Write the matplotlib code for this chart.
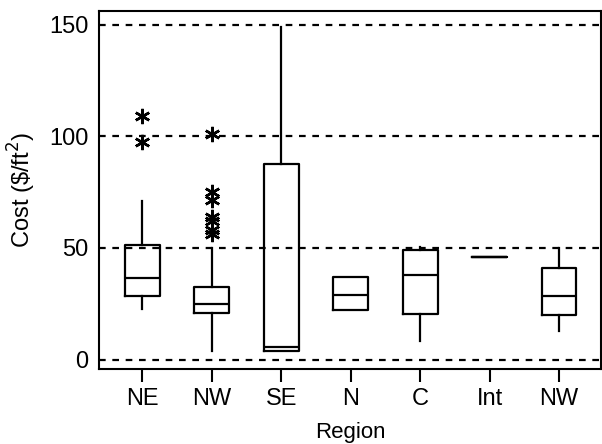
import matplotlib.pyplot as plt

plt.rcParams['font.family'] = ['Liberation Sans', 'DejaVu Sans']

# box statistics
regions = ["NE", "NW", "SE", "N", "C", "Int", "NW"]
whislo = [22.7, 4.0, 4.0, 22.0, 8.5, 46.0, 13.0]
q1 = [28.6, 21.0, 4.0, 22.0, 20.5, 46.0, 20.0]
med = [36.7, 25.0, 5.5, 29.0, 38.0, 46.0, 28.3]
q3 = [51.3, 32.6, 87.5, 37.0, 49.0, 46.0, 41.0]
whishi = [71.0, 50.0, 148.7, 37.0, 50.5, 46.0, 50.0]
outliers = [
    [109.0, 97.3],
    [101.0, 75.0, 71.4, 64.0, 62.0, 58.0, 56.0],
    [], [], [], [], [],
]

stats = []
for i in range(len(regions)):
    stats.append({"whislo": whislo[i], "q1": q1[i], "med": med[i], "q3": q3[i],
                  "whishi": whishi[i], "fliers": outliers[i], "label": regions[i]})

fig = plt.figure(figsize=(6.02, 4.44), dpi=100)
ax = fig.add_axes([0.165, 0.17, 0.833, 0.805])

for y in [0, 50, 100, 150]:
    ax.axhline(y, color='black', linestyle=(0, (3, 3)), linewidth=1.6, zorder=0)

ax.bxp(stats, widths=0.5, showcaps=False,
       boxprops=dict(color='black', linewidth=1.6),
       whiskerprops=dict(color='black', linewidth=1.6),
       medianprops=dict(color='black', linewidth=1.6),
       flierprops=dict(marker=(6, 2, 0), markersize=11, markeredgecolor='black',
                       markeredgewidth=1.8, linestyle='none'))

ax.set_xlim(0.38, 7.6)
ax.set_ylim(-4, 156)
ax.set_yticks([0, 50, 100, 150])
ax.tick_params(axis='y', length=0, labelsize=17, pad=8)
ax.tick_params(axis='x', length=9, width=1.5, labelsize=17, pad=5)
for s in ax.spines.values():
    s.set_linewidth(1.5)

ax.set_ylabel("Cost (\\$/ft$^2$)", fontsize=17, labelpad=8)
ax.set_xlabel("Region", fontsize=16, labelpad=9)

fig.savefig("out.png", dpi=100)
